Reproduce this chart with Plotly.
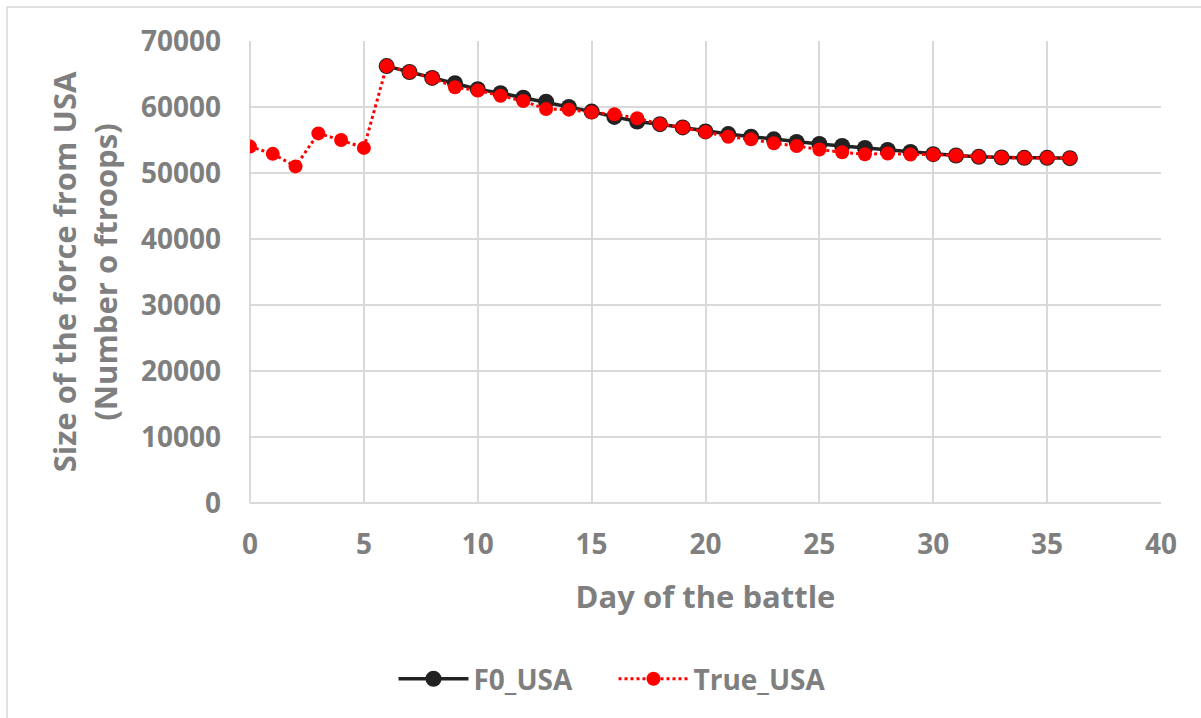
import plotly.graph_objects as go

days_f0 = list(range(6, 37))
f0_usa = [66200, 65300, 64400, 63600, 62700, 62100, 61400, 60800, 60000, 59300,
          58500, 57800, 57400, 56900, 56300, 55900, 55500, 55100, 54700, 54400,
          54100, 53800, 53500, 53200, 52850, 52650, 52450, 52350, 52300, 52300, 52250]

days_true = list(range(0, 37))
true_usa = [54000, 52900, 51000, 56000, 55000, 53800, 66200, 65300, 64400, 63000,
            62500, 61700, 60900, 59700, 59600, 59200, 58900, 58300, 57400, 56900,
            56200, 55500, 55100, 54500, 54100, 53550, 53150, 52850, 52950, 52800,
            52800, 52650, 52450, 52350, 52300, 52300, 52250]

x_ticks = [0, 5, 10, 15, 20, 25, 30, 35, 40]
y_ticks = [0, 10000, 20000, 30000, 40000, 50000, 60000, 70000]

GRAY = "#7f7f7f"
GRID = "#d9d9d9"
FONT = "Open Sans"

fig = go.Figure()
fig.add_trace(go.Scatter(
    x=days_f0, y=f0_usa, name="F0_USA", mode="lines+markers",
    line=dict(color="#222222", width=3.5),
    marker=dict(symbol="circle", size=16, color="#222222"),
))
fig.add_trace(go.Scatter(
    x=days_true, y=true_usa, name="True_USA", mode="lines+markers",
    line=dict(color="#ff0000", width=3, dash="dot"),
    marker=dict(symbol="circle", size=14, color="#ff0000"),
))

fig.update_layout(
    width=1201, height=718,
    margin=dict(l=250, r=40, t=41, b=215, autoexpand=False),
    paper_bgcolor="white", plot_bgcolor="white",
    font=dict(family=FONT, color=GRAY),
    showlegend=True,
    legend=dict(orientation="h", x=0.399, xanchor="center", y=-0.381, yanchor="middle",
                font=dict(size=28, color=GRAY, family=FONT, weight="bold"),
                itemwidth=70, entrywidth=135, traceorder="normal"),
    xaxis=dict(
        range=[0, 40], tickvals=x_ticks, ticktext=[str(v) for v in x_ticks],
        showgrid=True, gridcolor=GRID, gridwidth=1.5,
        zeroline=True, zerolinecolor=GRID, zerolinewidth=1.5,
        showline=False, ticks="", ticklabelstandoff=22,
        tickfont=dict(size=28, color=GRAY, family=FONT, weight="bold"),
        title=dict(text="Day of the battle", standoff=25,
                   font=dict(size=31, color=GRAY, family=FONT, weight="bold")),
    ),
    yaxis=dict(
        range=[0, 70000], tickvals=y_ticks, ticktext=[str(v) for v in y_ticks],
        showgrid=True, gridcolor=GRID, gridwidth=1.5,
        zeroline=True, zerolinecolor=GRID, zerolinewidth=1.5,
        showline=False, ticks="", ticklabelstandoff=28,
        tickfont=dict(size=28, color=GRAY, family=FONT, weight="bold"),
        title=dict(text="Size of the force from USA<br>(Number o ftroops)", standoff=14,
                   font=dict(size=31, color=GRAY, family=FONT, weight="bold")),
    ),
)

# outer chart border (Excel-style frame), partly clipped by the window
fig.add_shape(type="rect", xref="paper", yref="paper",
              x0=(7 - 250) / 911, x1=(1215 - 250) / 911,
              y0=(503 - 735) / 462, y1=1 + (41 - 7) / 462,
              line=dict(color=GRID, width=1.5), layer="below")

fig.write_html("out.html")
